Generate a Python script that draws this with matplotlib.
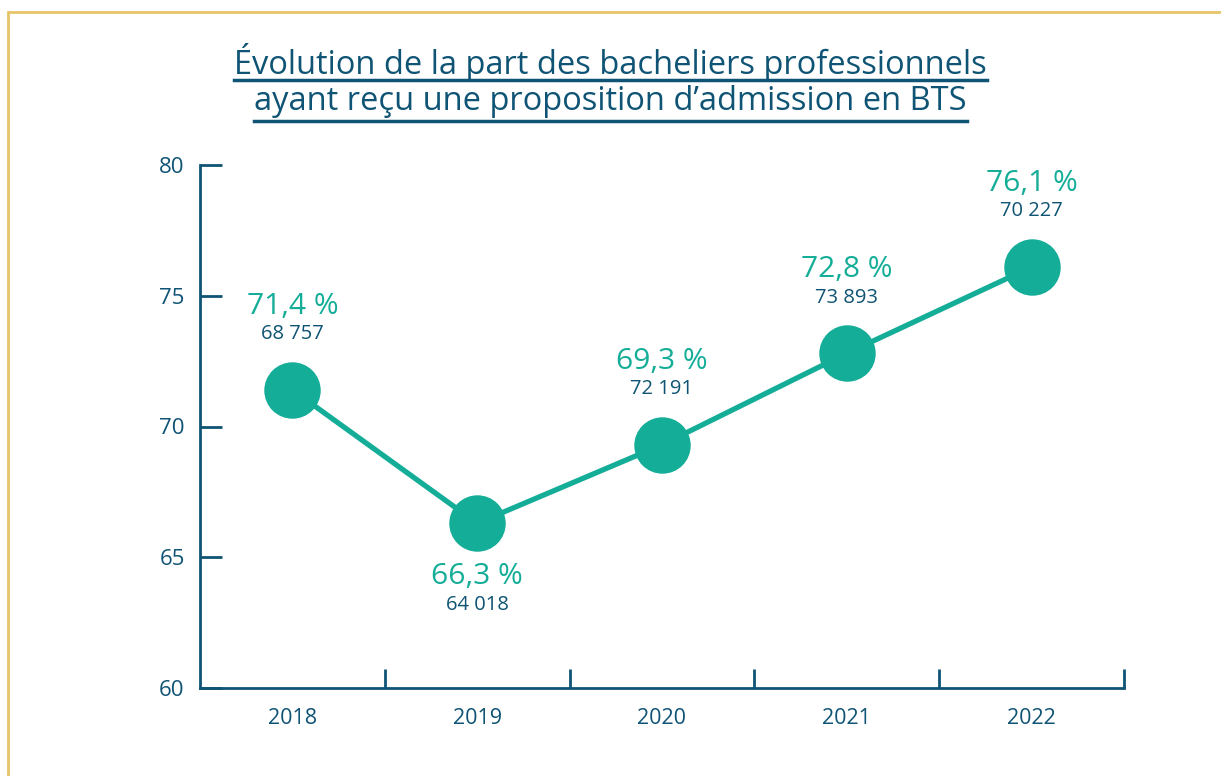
import matplotlib.pyplot as plt
from matplotlib.lines import Line2D
from matplotlib.patches import Rectangle

years = ['2018', '2019', '2020', '2021', '2022']
parts = [71.4, 66.3, 69.3, 72.8, 76.1]
part_labels = ['71,4 %', '66,3 %', '69,3 %', '72,8 %', '76,1 %']
effectifs = ['68 757', '64 018', '72 191', '73 893', '70 227']
yticks = [60, 65, 70, 75, 80]

teal = '#14ad98'
navy = '#0f5474'
gold = '#e7c468'

plt.rcParams['font.family'] = ['Open Sans', 'DejaVu Sans']

fig = plt.figure(figsize=(12.21, 7.76), dpi=100)
ax = fig.add_axes([200 / 1221, 1 - 688 / 776, 924 / 1221, 523 / 776])

x = list(range(len(years)))
ax.plot(x, parts, color=teal, lw=3.8, zorder=2)
ax.scatter(x, parts, s=1570, color=teal, zorder=3, clip_on=False)

ax.set_xlim(-0.5, 4.5)
ax.set_ylim(60, 80)

for i, v in enumerate(parts):
    if i == 1:
        pct_off, n_off = -38, -59
    else:
        pct_off, n_off = 60, 40
    ax.annotate(part_labels[i], (i, v), xytext=(0, pct_off), textcoords='offset points',
                ha='center', va='center', color=teal, fontsize=21.5)
    ax.annotate(effectifs[i], (i, v), xytext=(0, n_off), textcoords='offset points',
                ha='center', va='center', color=navy, fontsize=14.5)

for s in ['top', 'right']:
    ax.spines[s].set_visible(False)
for s in ['left', 'bottom']:
    ax.spines[s].set_color(navy)
    ax.spines[s].set_linewidth(2)

ax.set_yticks(yticks)
ax.set_yticklabels([str(t) for t in yticks])
ax.tick_params(axis='y', direction='in', length=16, width=2, color=navy,
               labelcolor=navy, labelsize=16, pad=11)
ax.set_xticks([0.5, 1.5, 2.5, 3.5, 4.5])
ax.set_xticklabels([])
ax.tick_params(axis='x', direction='in', length=14, width=2, color=navy)
for i, y in enumerate(years):
    ax.text(i, -0.058, y, transform=ax.get_xaxis_transform(), ha='center', va='center',
            color=navy, fontsize=15.5)

# cadre
fig.patches.append(Rectangle((8 / 1221, -0.1), 1.2, 1 - 12 / 776 + 0.1,
                             transform=fig.transFigure, fill=False,
                             edgecolor=gold, lw=2))

# titre souligné
t1 = fig.text(0.5, 1 - 63 / 776, 'Évolution de la part des bacheliers professionnels',
              ha='center', va='center', color=navy, fontsize=23.5, fontweight='medium')
t2 = fig.text(0.5, 1 - 101 / 776, 'ayant reçu une proposition d\u2019admission en BTS',
              ha='center', va='center', color=navy, fontsize=23.5, fontweight='medium')
fig.canvas.draw()
r = fig.canvas.get_renderer()
for t, yl in [(t1, 80), (t2, 121)]:
    bb = t.get_window_extent(r)
    x0, x1 = bb.x0 / 1221, bb.x1 / 1221
    yy = 1 - yl / 776
    fig.add_artist(Line2D([x0, x1], [yy, yy], transform=fig.transFigure,
                          color=navy, lw=2.5))

fig.savefig('out.png', dpi=100)
